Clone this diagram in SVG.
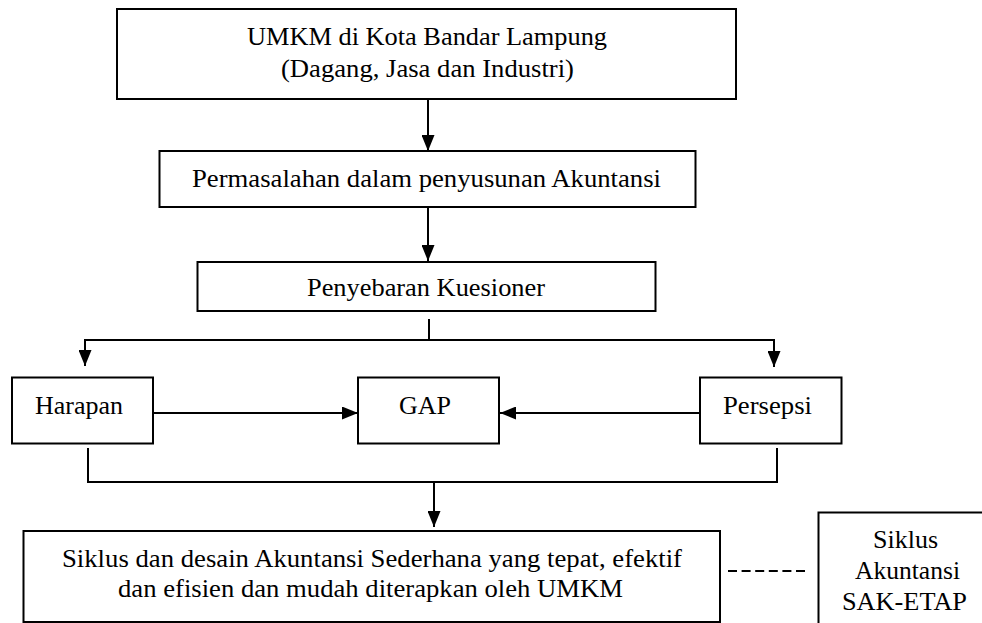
<svg xmlns="http://www.w3.org/2000/svg" width="982" height="623" viewBox="0 0 982 623">
<style>
.box{fill:#fff;stroke:#000;stroke-width:2}
.t{font-family:'Liberation Serif','DejaVu Serif',serif;font-size:26px;fill:#000;text-anchor:middle}
.c{fill:none;stroke:#000;stroke-width:2}
.arr{marker-end:url(#ah)}
.dash{stroke-dasharray:9 4.6}
</style>
<defs>
<marker id="ah" viewBox="0 0 16 13" refX="16" refY="6.5" markerWidth="16" markerHeight="13" orient="auto" markerUnits="userSpaceOnUse">
<path d="M0,0 L16,6.5 L0,13 z" fill="#000"/>
</marker>
</defs>
<rect width="982" height="623" fill="#fff"/>
<g id="connectors">
<path class="c arr" d="M428,99 V151"/>
<path class="c arr" d="M428,207 V261"/>
<path class="c" d="M429,319 V340"/>
<path class="c arr" d="M429,340 H85 V366"/>
<path class="c arr" d="M429,340 H774 V367"/>
<path class="c arr" d="M153,413 H358"/>
<path class="c arr" d="M700,413 H500"/>
<path class="c" d="M88,448 V482 H777 V448"/>
<path class="c arr" d="M434,482 V527"/>
<path class="c dash" d="M728,571 H805"/>
</g>
<g id="n-umkm">
<rect class="box" x="117" y="9" width="619" height="90"/>
<text class="t" x="427" y="45" textLength="360" lengthAdjust="spacingAndGlyphs">UMKM di Kota Bandar Lampung</text>
<text class="t" x="427.5" y="77" textLength="293" lengthAdjust="spacingAndGlyphs">(Dagang, Jasa dan Industri)</text>
</g>
<g id="n-permasalahan">
<rect class="box" x="159.5" y="151" width="536" height="56"/>
<text class="t" x="426.5" y="187" textLength="469" lengthAdjust="spacingAndGlyphs">Permasalahan dalam penyusunan Akuntansi</text>
</g>
<g id="n-kuesioner">
<rect class="box" x="197.5" y="262" width="458" height="49"/>
<text class="t" x="426" y="296" textLength="238" lengthAdjust="spacingAndGlyphs">Penyebaran Kuesioner</text>
</g>
<g id="n-harapan">
<rect class="box" x="12" y="377.5" width="141" height="66"/>
<text class="t" x="79" y="414" textLength="88" lengthAdjust="spacingAndGlyphs">Harapan</text>
</g>
<g id="n-gap">
<rect class="box" x="358" y="377.5" width="141" height="66"/>
<text class="t" x="425" y="414" textLength="52" lengthAdjust="spacingAndGlyphs">GAP</text>
</g>
<g id="n-persepsi">
<rect class="box" x="700" y="377.5" width="141.5" height="66"/>
<text class="t" x="767.5" y="414" textLength="89" lengthAdjust="spacingAndGlyphs">Persepsi</text>
</g>
<g id="n-siklus">
<rect class="box" x="23.5" y="531" width="696.5" height="91"/>
<text class="t" x="372" y="567" textLength="620" lengthAdjust="spacingAndGlyphs">Siklus dan desain Akuntansi Sederhana yang tepat, efektif</text>
<text class="t" x="370.5" y="597" textLength="505" lengthAdjust="spacingAndGlyphs">dan efisien dan mudah diterapkan oleh UMKM</text>
</g>
<g id="n-sak">
<rect class="box" x="818.5" y="512.5" width="200" height="150"/>
<text class="t" x="905.5" y="548" textLength="65" lengthAdjust="spacingAndGlyphs">Siklus</text>
<text class="t" x="907.5" y="579" textLength="105" lengthAdjust="spacingAndGlyphs">Akuntansi</text>
<text class="t" x="904.5" y="610" textLength="125" lengthAdjust="spacingAndGlyphs">SAK-ETAP</text>
</g>
</svg>
